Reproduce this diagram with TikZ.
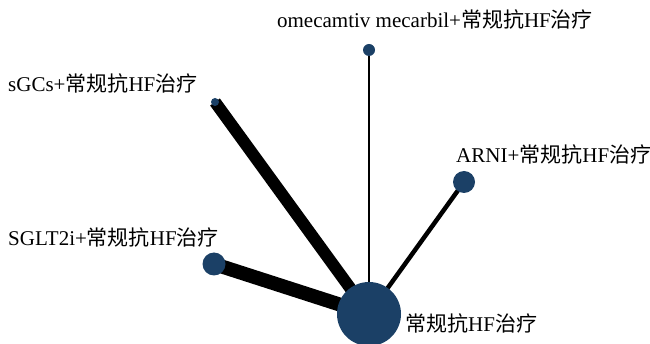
\documentclass[tikz,border=0pt]{standalone}
\usepackage{fontspec}
\setmainfont{Liberation Serif}
\newfontfamily\cjk{Noto Sans CJK SC}
\usetikzlibrary{backgrounds}
\definecolor{nodeblue}{HTML}{1B4066}
\tikzset{
  trt/.style={circle, fill=nodeblue, inner sep=0pt, minimum size=#1},
  lbl/.style={inner sep=0pt, font=\fontsize{21}{24}\selectfont},
  edge/.style={draw=black, line width=#1},
}
\begin{document}
\begin{tikzpicture}[x=1pt,y=-1pt]
\useasboundingbox (0,0) rectangle (650,344);
\node[trt=64pt] (c) at (369,314) {};
\node[trt=12pt] (om) at (369,50) {};
\node[trt=8pt] (sg) at (215,102) {};
\node[trt=22pt] (ar) at (464,182) {};
\node[trt=23pt] (sl) at (214,264) {};
\begin{scope}[on background layer]
\draw[edge=2.5pt] (c.center) -- (om.center);
\draw[edge=12pt] (c.center) -- (sg.center);
\draw[edge=4.5pt] (c.center) -- (ar.center);
\draw[edge=14pt] (c.center) -- (sl.center);
\end{scope}
\node[lbl, anchor=base] (tom) at (435,28) {omecamtiv mecarbil+{\cjk 常规抗}HF{\cjk 治疗}};
\node[lbl, anchor=base west] (tsg) at (8,92) {sGCs+{\cjk 常规抗}HF{\cjk 治疗}};
\node[lbl, anchor=base west] (tar) at (456,163) {ARNI+{\cjk 常规抗}HF{\cjk 治疗}};
\node[lbl, anchor=base west] (tsl) at (8,246) {SGLT2i+{\cjk 常规抗}HF{\cjk 治疗}};
\node[lbl, anchor=base west] (tc) at (405,331) {{\cjk 常规抗}HF{\cjk 治疗}};
\end{tikzpicture}
\end{document}
